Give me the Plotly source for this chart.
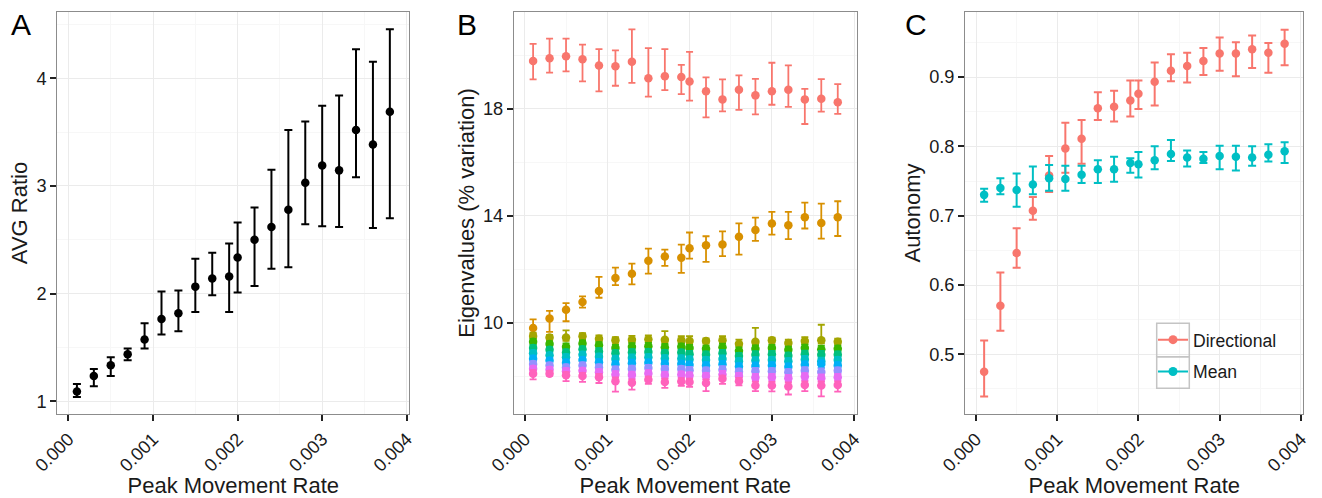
import plotly.graph_objects as go

# ---------------- data ----------------
rate = [0.0001, 0.0003, 0.0005, 0.0007, 0.0009, 0.0011, 0.0013, 0.0015, 0.0017, 0.0019,
        0.0020, 0.0022, 0.0024, 0.0026, 0.0028, 0.0030, 0.0032, 0.0034, 0.0036, 0.0038]

# Panel A: AVG ratio
avg_mean = [1.09, 1.235, 1.335, 1.437, 1.573, 1.765, 1.817, 2.065, 2.14, 2.16,
            2.335, 2.50, 2.62, 2.78, 3.03, 3.19, 3.145, 3.52, 3.385, 3.69]
avg_hi = [1.16, 1.30, 1.41, 1.49, 1.725, 2.02, 2.03, 2.325, 2.38, 2.465,
          2.66, 2.80, 3.15, 3.52, 3.60, 3.745, 3.84, 4.27, 4.155, 4.455]
avg_lo = [1.04, 1.14, 1.235, 1.38, 1.49, 1.62, 1.65, 1.83, 1.985, 1.83,
          2.01, 2.07, 2.23, 2.245, 2.645, 2.625, 2.62, 3.08, 2.61, 2.70]

# Panel B: eigenvalues (% variation), 10 components
eig1_mean = [19.79, 19.89, 19.96, 19.85, 19.62, 19.59, 19.76, 19.14, 19.22, 19.19,
             19.02, 18.65, 18.35, 18.71, 18.50, 18.65, 18.71, 18.35, 18.37, 18.24]
eig1_hi = [20.43, 20.62, 20.62, 20.40, 20.23, 20.18, 20.97, 20.27, 20.23, 19.64,
           20.13, 19.17, 19.10, 19.25, 19.12, 19.72, 19.62, 18.74, 19.11, 18.92]
eig1_lo = [19.10, 19.35, 19.40, 19.02, 18.65, 18.86, 18.97, 18.45, 18.70, 18.55,
           18.30, 17.68, 17.90, 17.96, 17.79, 18.15, 18.07, 17.43, 17.89, 17.81]

eig2_mean = [9.80, 10.15, 10.48, 10.77, 11.18, 11.67, 11.83, 12.31, 12.47, 12.43,
             12.78, 12.89, 12.92, 13.21, 13.46, 13.71, 13.64, 13.94, 13.73, 13.94]
eig2_hi = [10.12, 10.44, 10.73, 10.98, 11.71, 12.06, 12.21, 12.77, 12.73, 12.92,
           13.37, 13.23, 13.41, 13.71, 13.93, 14.14, 14.14, 14.49, 14.45, 14.54]
eig2_lo = [9.59, 9.65, 10.05, 10.56, 10.93, 11.40, 11.43, 11.83, 12.12, 11.86,
           12.39, 12.27, 12.49, 12.54, 13.06, 13.29, 13.12, 13.52, 13.14, 13.24]

eig3_mean = [9.50, 9.44, 9.44, 9.49, 9.40, 9.34, 9.36, 9.38, 9.36, 9.34,
             9.31, 9.31, 9.34, 9.21, 9.28, 9.34, 9.24, 9.31, 9.34, 9.28]
eig3_hi = [9.62, 9.54, 9.71, 9.61, 9.52, 9.46, 9.50, 9.52, 9.68, 9.49,
           9.49, 9.41, 9.49, 9.36, 9.80, 9.44, 9.36, 9.46, 9.92, 9.40]
eig3_lo = [9.40, 9.34, 9.32, 9.38, 9.30, 9.24, 9.25, 9.27, 9.26, 9.24,
           9.20, 9.21, 9.23, 9.11, 9.18, 9.24, 9.14, 9.20, 9.22, 9.18]

eig4_mean = [9.28, 9.20, 9.10, 9.22, 9.15, 9.05, 9.10, 9.12, 9.08, 9.10,
             9.05, 9.02, 9.08, 8.95, 9.02, 9.05, 8.98, 9.05, 9.00, 9.02]
eig5_mean = [9.05, 8.98, 8.88, 9.00, 8.92, 8.85, 8.88, 8.90, 8.86, 8.88,
             8.82, 8.80, 8.85, 8.75, 8.80, 8.82, 8.76, 8.82, 8.80, 8.80]
eig6_mean = [8.85, 8.78, 8.70, 8.80, 8.72, 8.64, 8.68, 8.70, 8.66, 8.66,
             8.62, 8.60, 8.64, 8.55, 8.58, 8.60, 8.55, 8.62, 8.55, 8.60]
eig7_mean = [8.65, 8.58, 8.50, 8.60, 8.52, 8.44, 8.48, 8.50, 8.46, 8.46,
             8.42, 8.40, 8.44, 8.36, 8.38, 8.40, 8.35, 8.42, 8.45, 8.40]
eig8_mean = [8.45, 8.40, 8.32, 8.40, 8.32, 8.24, 8.26, 8.30, 8.26, 8.26,
             8.22, 8.20, 8.24, 8.16, 8.18, 8.18, 8.14, 8.20, 8.15, 8.20]
eig9_mean = [8.27, 8.24, 8.18, 8.20, 8.14, 8.06, 8.04, 8.10, 8.04, 8.06,
             8.02, 8.00, 8.06, 8.00, 7.95, 7.96, 7.92, 7.98, 7.92, 7.96]
eig_mid_err = [0.11, 0.10, 0.12, 0.11, 0.12, 0.12, 0.13, 0.12, 0.12, 0.11,
               0.12, 0.12, 0.13, 0.12, 0.13, 0.12, 0.12, 0.13, 0.14, 0.12]

eig10_mean = [8.09, 8.09, 8.03, 8.00, 7.96, 7.81, 7.75, 7.86, 7.78, 7.80,
              7.78, 7.74, 7.90, 7.81, 7.65, 7.65, 7.61, 7.67, 7.65, 7.67]
eig10_hi = [8.22, 8.19, 8.15, 8.12, 8.08, 7.95, 7.88, 7.98, 7.90, 7.92,
            7.90, 7.88, 8.02, 7.93, 7.79, 7.78, 7.76, 7.80, 7.80, 7.80]
eig10_lo = [7.88, 8.01, 7.81, 7.78, 7.74, 7.42, 7.49, 7.71, 7.56, 7.63,
            7.60, 7.44, 7.71, 7.65, 7.44, 7.43, 7.31, 7.44, 7.24, 7.42]

# Panel C: autonomy
dir_mean = [0.475, 0.570, 0.646, 0.707, 0.758, 0.797, 0.811, 0.855, 0.857, 0.866,
            0.876, 0.893, 0.909, 0.916, 0.923, 0.934, 0.934, 0.940, 0.935, 0.948]
dir_hi = [0.520, 0.618, 0.682, 0.727, 0.786, 0.834, 0.838, 0.878, 0.880, 0.895,
          0.895, 0.921, 0.933, 0.935, 0.942, 0.957, 0.950, 0.960, 0.949, 0.968]
dir_lo = [0.439, 0.534, 0.625, 0.694, 0.734, 0.762, 0.775, 0.838, 0.836, 0.843,
          0.854, 0.859, 0.894, 0.892, 0.903, 0.909, 0.901, 0.913, 0.906, 0.917]

mean_mean = [0.730, 0.740, 0.737, 0.745, 0.754, 0.753, 0.759, 0.767, 0.767, 0.776,
             0.774, 0.780, 0.789, 0.784, 0.782, 0.786, 0.785, 0.784, 0.788, 0.793]
mean_hi = [0.739, 0.754, 0.761, 0.771, 0.773, 0.772, 0.772, 0.780, 0.785, 0.783,
           0.792, 0.800, 0.809, 0.794, 0.792, 0.801, 0.801, 0.800, 0.803, 0.806]
mean_lo = [0.720, 0.731, 0.713, 0.731, 0.736, 0.736, 0.747, 0.747, 0.749, 0.762,
           0.755, 0.767, 0.779, 0.771, 0.776, 0.767, 0.765, 0.772, 0.778, 0.776]

x_ticks = [0.000, 0.001, 0.002, 0.003, 0.004]
x_tick_labels = ["0.000", "0.001", "0.002", "0.003", "0.004"]
avg_ticks = [1, 2, 3, 4]
eig_ticks = [10, 14, 18]
aut_ticks = [0.5, 0.6, 0.7, 0.8, 0.9]
aut_tick_labels = ["0.5", "0.6", "0.7", "0.8", "0.9"]

hue10 = ["#F8766D", "#D89000", "#A3A500", "#39B600", "#00BF7D",
         "#00BFC4", "#00B0F6", "#9590FF", "#E76BF3", "#FF62BC"]

# ---------------- figure ----------------
W, H = 1322, 498
fig = go.Figure()


def add_series(x, m, hi, lo, color, xa, ya, msize=8.5, thick=2, width=4, name=None):
    plus = [h - v for h, v in zip(hi, m)]
    minus = [v - l for v, l in zip(m, lo)]
    fig.add_trace(go.Scatter(
        x=x, y=m, mode="markers", xaxis=xa, yaxis=ya, showlegend=False,
        name=name or "",
        marker=dict(color=color, size=msize, line=dict(width=0)),
        error_y=dict(type="data", symmetric=False, array=plus, arrayminus=minus,
                     color=color, thickness=thick, width=width)))


# Panel A
add_series(rate, avg_mean, avg_hi, avg_lo, "#000000", "x", "y")

# Panel B
eig_series = [
    (eig1_mean, eig1_hi, eig1_lo),
    (eig2_mean, eig2_hi, eig2_lo),
    (eig3_mean, eig3_hi, eig3_lo),
]
for m in [eig4_mean, eig5_mean, eig6_mean, eig7_mean, eig8_mean, eig9_mean]:
    eig_series.append((m, [v + e for v, e in zip(m, eig_mid_err)],
                       [v - e for v, e in zip(m, eig_mid_err)]))
eig_series.append((eig10_mean, eig10_hi, eig10_lo))
for (m, hi, lo), col in zip(eig_series, hue10):
    add_series(rate, m, hi, lo, col, "x2", "y2", msize=8.5, thick=1.8, width=3.5)

# Panel C
add_series(rate, dir_mean, dir_hi, dir_lo, "#F8766D", "x3", "y3")
add_series(rate, mean_mean, mean_hi, mean_lo, "#00BFC4", "x3", "y3")
# legend entries (point + line key)
for nm, col in [("Directional", "#F8766D"), ("Mean", "#00BFC4")]:
    fig.add_trace(go.Scatter(x=[None], y=[None], mode="lines+markers", name=nm,
                             xaxis="x3", yaxis="y3", legendgroup=nm,
                             line=dict(color=col, width=2),
                             marker=dict(color=col, size=9)))

FONT = "Liberation Sans, Arial, Helvetica, sans-serif"
TXT = "#1a1a1a"
GRID = "#ebebeb"
MINOR = "#f7f7f7"
BORDER = "#8c8c8c"
TICKSIZE = 18.2

ydom = [1 - 414.3 / H, 1 - 11.7 / H]
xdoms = [[57.3 / W, 409.3 / W], [514 / W, 856.7 / W], [965.3 / W, 1303.3 / W]]
xr = [-0.000132, 0.00403]


def xaxis_cfg(dom, anchor):
    return dict(domain=dom, anchor=anchor, range=xr, tickmode="array", automargin=False,
                tickvals=x_ticks, ticktext=x_tick_labels, tickangle=-45,
                ticks="outside", ticklen=6, tickwidth=2, tickcolor="#222",
                tickfont=dict(size=TICKSIZE, color=TXT, family=FONT),
                showgrid=True, gridcolor=GRID, gridwidth=1.2, zeroline=False,
                showline=True, mirror=True, linecolor=BORDER, linewidth=1.3,
                minor=dict(tickvals=[0.0005, 0.0015, 0.0025, 0.0035], showgrid=True,
                           gridcolor=MINOR, gridwidth=1, ticks=""),
                title=dict(text="Peak Movement Rate", font=dict(size=22, color=TXT, family=FONT),
                           standoff=0))


def yaxis_cfg(anchor, rng, tv, tt, minor_vals, title):
    return dict(domain=ydom, anchor=anchor, range=rng, tickmode="array", automargin=False,
                tickvals=tv, ticktext=tt,
                ticks="outside", ticklen=6, tickwidth=2, tickcolor="#222",
                tickfont=dict(size=TICKSIZE, color=TXT, family=FONT),
                showgrid=True, gridcolor=GRID, gridwidth=1.2, zeroline=False,
                showline=True, mirror=True, linecolor=BORDER, linewidth=1.3,
                minor=dict(tickvals=minor_vals, showgrid=True, gridcolor=MINOR,
                           gridwidth=1, ticks=""),
                title=dict(text=title, font=dict(size=22, color=TXT, family=FONT),
                           standoff=2))


fig.update_layout(
    width=W, height=H, margin=dict(l=0, r=0, t=0, b=0, autoexpand=False),
    paper_bgcolor="white", plot_bgcolor="white",
    font=dict(family=FONT, color=TXT),
    xaxis=xaxis_cfg(xdoms[0], "y"),
    xaxis2=xaxis_cfg(xdoms[1], "y2"),
    xaxis3=xaxis_cfg(xdoms[2], "y3"),
    yaxis=yaxis_cfg("x", [0.879, 4.619], avg_ticks, [str(v) for v in avg_ticks],
                    [1.5, 2.5, 3.5, 4.5], "AVG Ratio"),
    yaxis2=yaxis_cfg("x2", [6.57, 21.63], eig_ticks, [str(v) for v in eig_ticks],
                     [8, 12, 16, 20], "Eigenvalues (% variation)"),
    yaxis3=yaxis_cfg("x3", [0.4135, 0.9942], aut_ticks, aut_tick_labels,
                     [0.45, 0.55, 0.65, 0.75, 0.85, 0.95], "Autonomy"),
    showlegend=True,
    legend=dict(x=1153 / W, xanchor="left", y=1 - 321.7 / H, yanchor="top",
                bgcolor="rgba(0,0,0,0)", borderwidth=0,
                font=dict(size=17.6, color=TXT, family=FONT),
                tracegroupgap=6, traceorder="grouped"),
)

# legend key boxes (ggplot-style)
for y0, y1 in [(323.3, 356.7), (356.7, 388.3)]:
    fig.add_shape(type="rect", xref="paper", yref="paper",
                  x0=1156.7 / W, x1=1189.3 / W, y0=1 - y1 / H, y1=1 - y0 / H,
                  line=dict(color="#c4c4c4", width=1.5), fillcolor="rgba(0,0,0,0)",
                  layer="above")

# panel letters
for lab, px in [("A", 9), ("B", 455), ("C", 903)]:
    fig.add_annotation(text=lab, xref="paper", yref="paper", x=px / W, y=1 - 24 / H,
                       xanchor="left", yanchor="middle", showarrow=False,
                       font=dict(size=30, color="#000", family=FONT))

fig.write_html("out.html", config={"displayModeBar": False},
               post_script="document.body.style.margin='0';document.body.style.overflow='hidden';")
